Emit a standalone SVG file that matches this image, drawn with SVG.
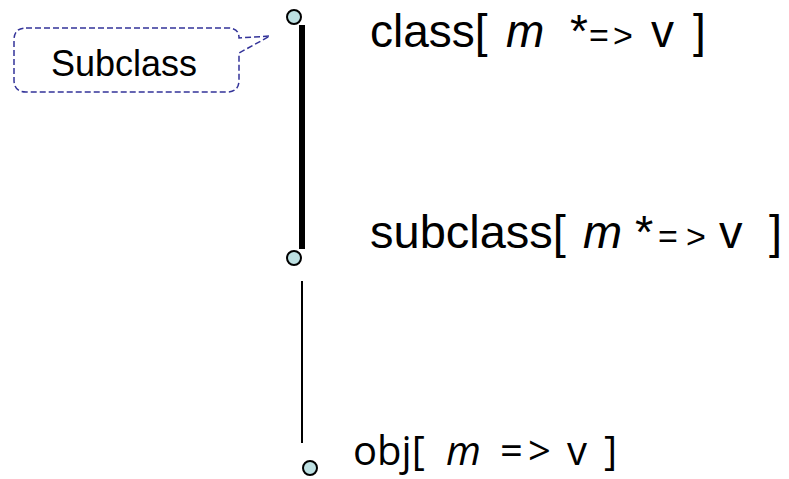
<svg xmlns="http://www.w3.org/2000/svg" width="789" height="479" viewBox="0 0 789 479">
  <style>
    .pt { fill: #bde0e2; stroke: #000; stroke-width: 2; }
    .lbl { font-family: "Liberation Sans", Arial, sans-serif; font-size: 46px; fill: #000; }
    .l2 { font-size: 47px; }
    .sm { font-size: 34px; }
    .it { font-style: italic; }
    .obj { font-family: "Open Sans", "Noto Sans", sans-serif; font-size: 40px; fill: #000; }
    .callout { fill: #fff; stroke: #333399; stroke-width: 1.5; stroke-dasharray: 6 3; }
    .ctext { font-family: "Liberation Sans", Arial, sans-serif; font-size: 36px; fill: #000; }
    .conn { stroke: #000; fill: none; }
  </style>
  <rect width="789" height="479" fill="#fff"/>
  <g id="connectors">
    <line class="conn" x1="302" y1="25" x2="302" y2="249" stroke-width="6"/>
    <line class="conn" x1="302" y1="281" x2="302" y2="443" stroke-width="2"/>
  </g>
  <g id="callout-subclass">
    <path class="callout" d="M26,28 H228 Q239,28 239,38 L270,36 L239,53 V80 Q239,92 227,92 H26 Q14,92 14,80 V40 Q14,28 26,28 Z"/>
    <text class="ctext" x="51" y="76">Subclass</text>
  </g>
  <g id="node-class">
    <circle class="pt" cx="294" cy="17" r="7"/>
    <text class="lbl" y="47"><tspan x="370">class[</tspan><tspan class="it" x="506">m</tspan><tspan x="570">*</tspan><tspan class="sm" x="589">=</tspan><tspan class="sm" x="613">&gt;</tspan><tspan x="651">v</tspan><tspan x="693">]</tspan></text>
  </g>
  <g id="node-subclass">
    <circle class="pt" cx="294" cy="258" r="7"/>
    <text class="lbl l2" y="248"><tspan x="370">subclass[</tspan><tspan class="it" x="583">m</tspan><tspan x="635">*</tspan><tspan class="sm" x="658">=</tspan><tspan class="sm" x="686">&gt;</tspan><tspan x="719">v</tspan><tspan x="769">]</tspan></text>
  </g>
  <g id="node-obj">
    <circle class="pt" cx="310" cy="468" r="7"/>
    <text class="obj" y="465"><tspan x="353">obj[</tspan><tspan class="it" x="446">m</tspan><tspan x="500">=</tspan><tspan x="528">&gt;</tspan><tspan x="567">v</tspan><tspan x="604">]</tspan></text>
  </g>
</svg>
